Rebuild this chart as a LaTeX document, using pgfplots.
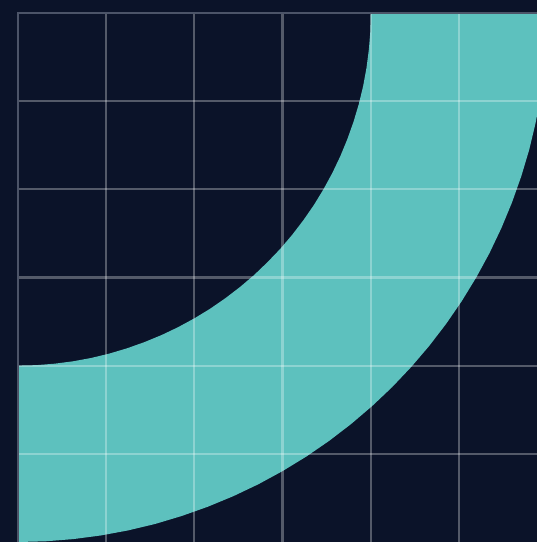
\documentclass[border=0pt]{standalone}
\usepackage{pgfplots}
\pgfplotsset{compat=1.18}

\definecolor{bgnavy}{HTML}{0B1329}
\definecolor{bandteal}{HTML}{5DC1BE}
\definecolor{edgegray}{HTML}{4C5468}

\begin{document}
\begin{tikzpicture}
  \useasboundingbox (0pt,0pt) rectangle (537pt,542pt);
  \fill[bgnavy] (0pt,0pt) rectangle (537pt,542pt);
  \begin{scope}
  \clip (0pt,0pt) rectangle (537pt,542pt);

  \begin{axis}[
      scale only axis,
      width=529.2pt, height=529.2pt,
      at={(18pt,0pt)}, anchor=south west,
      xmin=0, xmax=6, ymin=0, ymax=6,
      xtick={1,...,5}, ytick={1,...,5},
      xticklabels={}, yticklabels={},
      major tick length=0pt,
      axis line style={draw=none},
      grid=major,
      major grid style={white, opacity=0.3, line width=2.2pt},
      axis on top,
    ]
    % quarter ring, centre (0,6), radii 4 and 6
    \addplot[fill=bandteal, draw=none] coordinates {
      (0,0) (0.314,0.008) (0.627,0.033) (0.939,0.074) (1.247,0.131)
      (1.553,0.204) (1.854,0.294) (2.150,0.399) (2.440,0.519) (2.724,0.654)
      (3.000,0.804) (3.268,0.968) (3.527,1.146) (3.776,1.337) (4.015,1.541)
      (4.243,1.757) (4.459,1.985) (4.663,2.224) (4.854,2.473) (5.032,2.732)
      (5.196,3.000) (5.346,3.276) (5.481,3.560) (5.601,3.850) (5.706,4.146)
      (5.796,4.447) (5.869,4.753) (5.926,5.061) (5.967,5.373) (5.992,5.686)
      (6,6)
      (4,6) (3.995,5.791) (3.978,5.582) (3.951,5.374) (3.913,5.168)
      (3.864,4.965) (3.804,4.764) (3.734,4.567) (3.654,4.373) (3.564,4.184)
      (3.464,4.000) (3.355,3.821) (3.236,3.649) (3.109,3.483) (2.973,3.323)
      (2.828,3.172) (2.677,3.027) (2.517,2.891) (2.351,2.764) (2.179,2.645)
      (2.000,2.536) (1.816,2.436) (1.627,2.346) (1.433,2.266) (1.236,2.196)
      (1.035,2.136) (0.832,2.087) (0.626,2.049) (0.418,2.022) (0.209,2.005)
      (0,2)
    } -- cycle;
  \end{axis}

  \draw[edgegray, line width=2.2pt] (18pt,0pt) -- (18pt,529.2pt) -- (540pt,529.2pt);
  \end{scope}
\end{tikzpicture}
\end{document}
